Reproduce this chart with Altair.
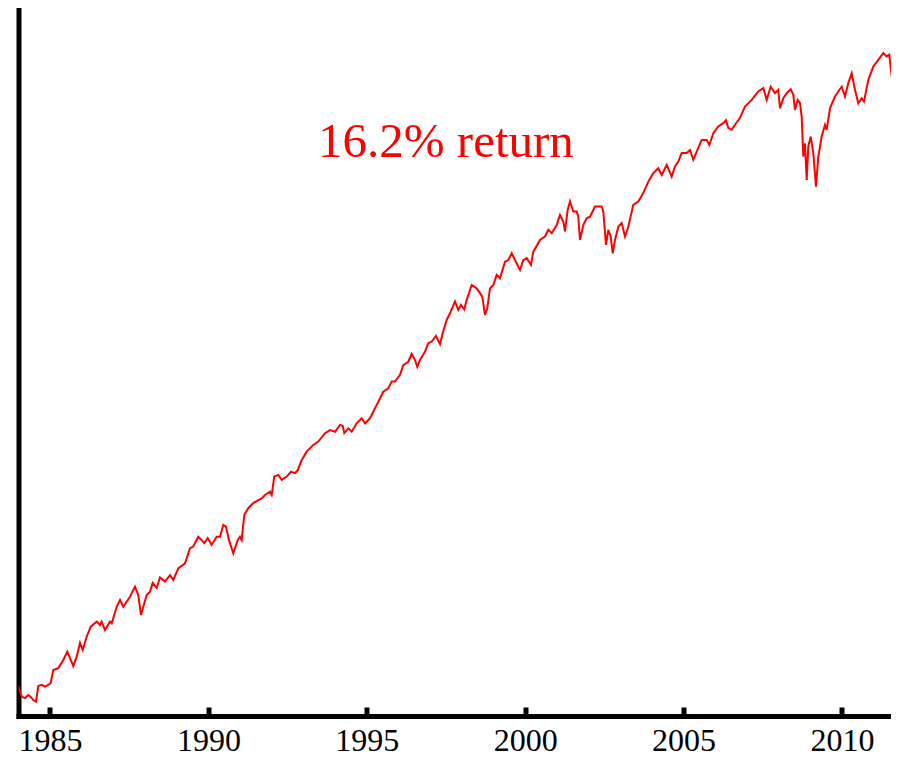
import altair as alt
import pandas as pd

# Decimal year of each reading
year = [
    1983.999, 1984.107, 1984.211, 1984.315, 1984.391, 1984.473, 1984.558, 1984.631, 1984.738, 1984.842,
    1984.946, 1985.022, 1985.104, 1985.262, 1985.420, 1985.546, 1985.631, 1985.735, 1985.843, 1985.947,
    1986.032, 1986.158, 1986.285, 1986.474, 1986.578, 1986.632, 1986.736, 1986.894, 1986.948, 1987.105,
    1987.210, 1987.314, 1987.421, 1987.525, 1987.683, 1987.787, 1987.872, 1987.945, 1988.052, 1988.157,
    1988.242, 1988.368, 1988.472, 1988.630, 1988.788, 1988.892, 1989.050, 1989.261, 1989.419, 1989.523,
    1989.681, 1989.788, 1989.871, 1989.978, 1990.104, 1990.262, 1990.366, 1990.470, 1990.556, 1990.650,
    1990.786, 1990.925, 1990.997, 1991.051, 1991.133, 1991.259, 1991.417, 1991.575, 1991.682, 1991.787,
    1991.944, 1991.998, 1992.080, 1992.206, 1992.314, 1992.472, 1992.607, 1992.734, 1992.819, 1992.945,
    1993.103, 1993.311, 1993.469, 1993.681, 1993.838, 1993.996, 1994.154, 1994.239, 1994.290, 1994.416,
    1994.523, 1994.681, 1994.839, 1994.943, 1995.101, 1995.313, 1995.521, 1995.679, 1995.786, 1995.890,
    1996.048, 1996.152, 1996.310, 1996.417, 1996.521, 1996.594, 1996.679, 1996.837, 1996.941, 1997.049,
    1997.184, 1997.311, 1997.396, 1997.522, 1997.626, 1997.784, 1997.888, 1997.973, 1998.078, 1998.153,
    1998.311, 1998.469, 1998.573, 1998.646, 1998.731, 1998.804, 1998.889, 1998.993, 1999.100, 1999.205,
    1999.362, 1999.467, 1999.574, 1999.678, 1999.836, 1999.940, 2000.047, 2000.183, 2000.256, 2000.467,
    2000.625, 2000.729, 2000.836, 2000.994, 2001.098, 2001.203, 2001.256, 2001.341, 2001.414, 2001.518,
    2001.626, 2001.676, 2001.730, 2001.834, 2001.941, 2002.045, 2002.203, 2002.415, 2002.466, 2002.551,
    2002.623, 2002.699, 2002.762, 2002.835, 2002.939, 2003.046, 2003.150, 2003.255, 2003.412, 2003.570,
    2003.728, 2003.886, 2004.044, 2004.201, 2004.309, 2004.467, 2004.624, 2004.729, 2004.833, 2004.940,
    2005.098, 2005.202, 2005.306, 2005.414, 2005.571, 2005.729, 2005.811, 2005.938, 2006.095, 2006.253,
    2006.338, 2006.411, 2006.518, 2006.622, 2006.780, 2006.938, 2007.149, 2007.358, 2007.516, 2007.623,
    2007.749, 2007.885, 2007.989, 2008.043, 2008.147, 2008.255, 2008.381, 2008.463, 2008.516, 2008.601,
    2008.674, 2008.728, 2008.779, 2008.832, 2008.886, 2008.936, 2009.012, 2009.094, 2009.179, 2009.252,
    2009.359, 2009.463, 2009.517, 2009.621, 2009.779, 2009.883, 2009.990, 2010.095, 2010.199, 2010.306,
    2010.410, 2010.515, 2010.622, 2010.694, 2010.830, 2010.988, 2011.146, 2011.304, 2011.411, 2011.493,
    2011.569, 2011.619, 2011.673, 2011.726, 2011.799,
]

# log10 of the growth of 1 unit invested at the start
log10_growth = [
    0.000, -0.038, -0.043, -0.032, -0.039, -0.050, -0.056, 0.000, 0.004, -0.002,
    0.004, 0.011, 0.057, 0.064, 0.093, 0.123, 0.100, 0.071, 0.105, 0.154,
    0.129, 0.176, 0.212, 0.230, 0.218, 0.230, 0.200, 0.230, 0.224, 0.283,
    0.307, 0.283, 0.301, 0.319, 0.355, 0.325, 0.254, 0.283, 0.325, 0.337,
    0.368, 0.350, 0.388, 0.373, 0.396, 0.379, 0.420, 0.438, 0.492, 0.498,
    0.533, 0.521, 0.510, 0.528, 0.504, 0.533, 0.533, 0.575, 0.569, 0.521,
    0.474, 0.521, 0.533, 0.521, 0.611, 0.635, 0.653, 0.664, 0.670, 0.682,
    0.694, 0.682, 0.748, 0.754, 0.736, 0.748, 0.765, 0.760, 0.771, 0.807,
    0.837, 0.861, 0.873, 0.903, 0.914, 0.908, 0.932, 0.929, 0.903, 0.920,
    0.908, 0.938, 0.956, 0.938, 0.956, 1.004, 1.051, 1.063, 1.087, 1.087,
    1.111, 1.146, 1.158, 1.186, 1.164, 1.140, 1.164, 1.194, 1.224, 1.230,
    1.250, 1.221, 1.260, 1.307, 1.331, 1.373, 1.343, 1.361, 1.345, 1.379,
    1.432, 1.420, 1.403, 1.390, 1.325, 1.349, 1.420, 1.432, 1.468, 1.456,
    1.515, 1.521, 1.545, 1.521, 1.486, 1.521, 1.528, 1.504, 1.551, 1.593,
    1.605, 1.629, 1.617, 1.646, 1.682, 1.658, 1.623, 1.700, 1.730, 1.694,
    1.694, 1.676, 1.593, 1.646, 1.670, 1.676, 1.712, 1.712, 1.694, 1.575,
    1.629, 1.605, 1.545, 1.593, 1.640, 1.653, 1.605, 1.640, 1.718, 1.730,
    1.760, 1.801, 1.831, 1.849, 1.825, 1.861, 1.819, 1.855, 1.873, 1.903,
    1.903, 1.914, 1.879, 1.908, 1.950, 1.950, 1.932, 1.974, 1.998, 2.010,
    2.020, 1.992, 1.986, 2.004, 2.029, 2.069, 2.093, 2.123, 2.135, 2.093,
    2.140, 2.117, 2.129, 2.063, 2.099, 2.117, 2.131, 2.111, 2.057, 2.093,
    2.081, 2.033, 1.890, 1.938, 1.807, 1.926, 1.962, 1.903, 1.783, 1.890,
    1.962, 2.004, 1.986, 2.063, 2.105, 2.123, 2.140, 2.105, 2.153, 2.188,
    2.129, 2.081, 2.099, 2.087, 2.164, 2.212, 2.236, 2.260, 2.248, 2.254,
    2.176, 2.218, 2.182, 2.212, 2.260,
]

tick_years = [1985, 1990, 1995, 2000, 2005, 2010]

annotation_text = ["16.2% return"]
annotation_year = [1993.46]
annotation_level = [1.889]

Y_LO, Y_HI = -0.107, 2.421

df = pd.DataFrame({"year": year, "g": log10_growth})
ann_df = pd.DataFrame({"year": annotation_year, "g": annotation_level, "text": annotation_text})

W, H = 872.5, 708
FONT = "Liberation Serif"

xscale = alt.Scale(domain=[1984.006, 2011.547], nice=False, zero=False)
yscale = alt.Scale(domain=[Y_LO, Y_HI], nice=False, zero=False)

# main bottom axis: thick domain line and year labels
x_axis = alt.Axis(
    values=tick_years,
    format="d",
    ticks=False,
    grid=False,
    title=None,
    labelFont=FONT,
    labelFontSize=32,
    labelColor="black",
    labelPadding=9.5,
    labelFlush=False,
    domainColor="black",
    domainWidth=5,
    domainCap="square",
)
# second bottom axis, shifted up into the plot so its ticks point inward
tick_axis = alt.Axis(
    orient="bottom",
    offset=-9,
    values=tick_years,
    labels=False,
    domain=False,
    grid=False,
    ticks=True,
    tickSize=9,
    tickWidth=5,
    tickColor="black",
    title=None,
)
y_axis = alt.Axis(
    labels=False,
    ticks=False,
    grid=False,
    title=None,
    domainColor="black",
    domainWidth=5,
    domainCap="square",
)

line = alt.Chart(df).mark_line(color="#ff0000", strokeWidth=2, clip=True).encode(
    x=alt.X("year:Q", scale=xscale, axis=x_axis),
    y=alt.Y("g:Q", scale=yscale, axis=y_axis),
)

label = alt.Chart(ann_df).mark_text(
    color="#ff0000", font=FONT, fontSize=49, align="left", baseline="alphabetic"
).encode(
    x=alt.X("year:Q", scale=xscale, axis=tick_axis),
    y=alt.Y("g:Q", scale=yscale, axis=y_axis),
    text="text:N",
)

chart = (
    alt.layer(line, label)
    .resolve_axis(x="independent")
    .properties(
        width=W,
        height=H,
        autosize="none",
        padding={"left": 10.5, "top": 0, "right": 0, "bottom": 42},
    )
    .configure_view(strokeWidth=0)
)

chart.save("out.html", embed_options={"renderer": "svg", "actions": False})
